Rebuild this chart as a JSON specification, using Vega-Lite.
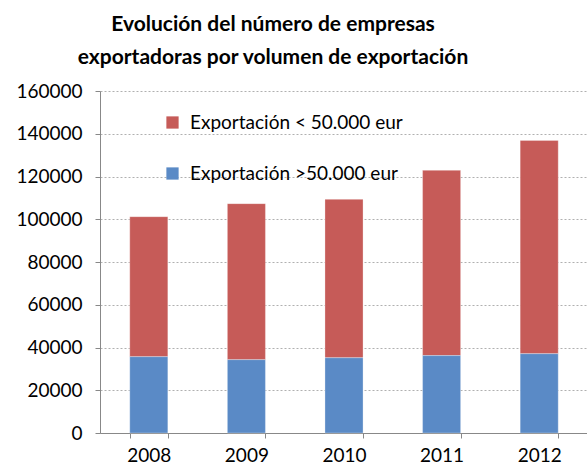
{
  "$schema": "https://vega.github.io/schema/vega-lite/v6.json",
  "autosize": "none",
  "width": 488,
  "height": 342,
  "padding": {"left": 100, "top": 91, "right": 0, "bottom": 38},
  "background": "white",
  "title": {
    "text": ["Evolución del número de empresas", "exportadoras por volumen de exportación"],
    "font": "Lato",
    "fontSize": 21,
    "fontWeight": "bold",
    "color": "#000000",
    "lineHeight": 33,
    "anchor": "middle",
    "frame": "group",
    "dx": -71,
    "offset": 14
  },
  "config": {
    "view": {"stroke": null},
    "font": "Lato"
  },
  "data": {
    "values": [
      {"anio": "2008", "serie": "Exportación < 50.000 eur", "empresas": 65500},
      {"anio": "2008", "serie": "Exportación >50.000 eur", "empresas": 35700},
      {"anio": "2009", "serie": "Exportación < 50.000 eur", "empresas": 73000},
      {"anio": "2009", "serie": "Exportación >50.000 eur", "empresas": 34300},
      {"anio": "2010", "serie": "Exportación < 50.000 eur", "empresas": 74100},
      {"anio": "2010", "serie": "Exportación >50.000 eur", "empresas": 35200},
      {"anio": "2011", "serie": "Exportación < 50.000 eur", "empresas": 86700},
      {"anio": "2011", "serie": "Exportación >50.000 eur", "empresas": 36200},
      {"anio": "2012", "serie": "Exportación < 50.000 eur", "empresas": 99800},
      {"anio": "2012", "serie": "Exportación >50.000 eur", "empresas": 37100}
    ]
  },
  "mark": {"type": "bar", "stroke": "#ffffff", "strokeWidth": 0.6, "strokeOpacity": 0.5},
  "encoding": {
    "x": {
      "field": "anio",
      "type": "nominal",
      "scale": {"paddingInner": 0.61, "paddingOuter": 0.305},
      "axis": {
        "title": null,
        "labelAngle": 0,
        "labelFont": "Lato",
        "labelFontSize": 19,
        "labelColor": "#000000",
        "labelPadding": 8,
        "tickBand": "extent",
        "tickSize": 5,
        "tickColor": "#888888",
        "domainColor": "#888888",
        "grid": false
      }
    },
    "y": {
      "field": "empresas",
      "type": "quantitative",
      "aggregate": "sum",
      "stack": "zero",
      "scale": {"domain": [0, 160000], "nice": false},
      "axis": {
        "title": null,
        "values": [0, 20000, 40000, 60000, 80000, 100000, 120000, 140000, 160000],
        "format": "d",
        "labelFont": "Lato",
        "labelFontSize": 19,
        "labelColor": "#000000",
        "labelPadding": 13,
        "tickSize": 5,
        "tickColor": "#888888",
        "domainColor": "#888888",
        "grid": true,
        "gridColor": "#B0B0B0",
        "gridDash": [2, 2],
        "gridWidth": 1
      }
    },
    "color": {
      "field": "serie",
      "type": "nominal",
      "scale": {
        "domain": ["Exportación < 50.000 eur", "Exportación >50.000 eur"],
        "range": ["#C65B58", "#5A8AC6"]
      },
      "legend": {
        "title": null,
        "orient": "none",
        "legendX": 63,
        "legendY": 22,
        "symbolType": "square",
        "symbolSize": 150,
        "symbolStrokeWidth": 0,
        "labelFont": "Lato",
        "labelFontSize": 19,
        "labelColor": "#000000",
        "labelOffset": 8,
        "labelLimit": 0,
        "rowPadding": 31,
        "padding": 0
      }
    },
    "order": {"field": "serie", "sort": "descending"}
  }
}
